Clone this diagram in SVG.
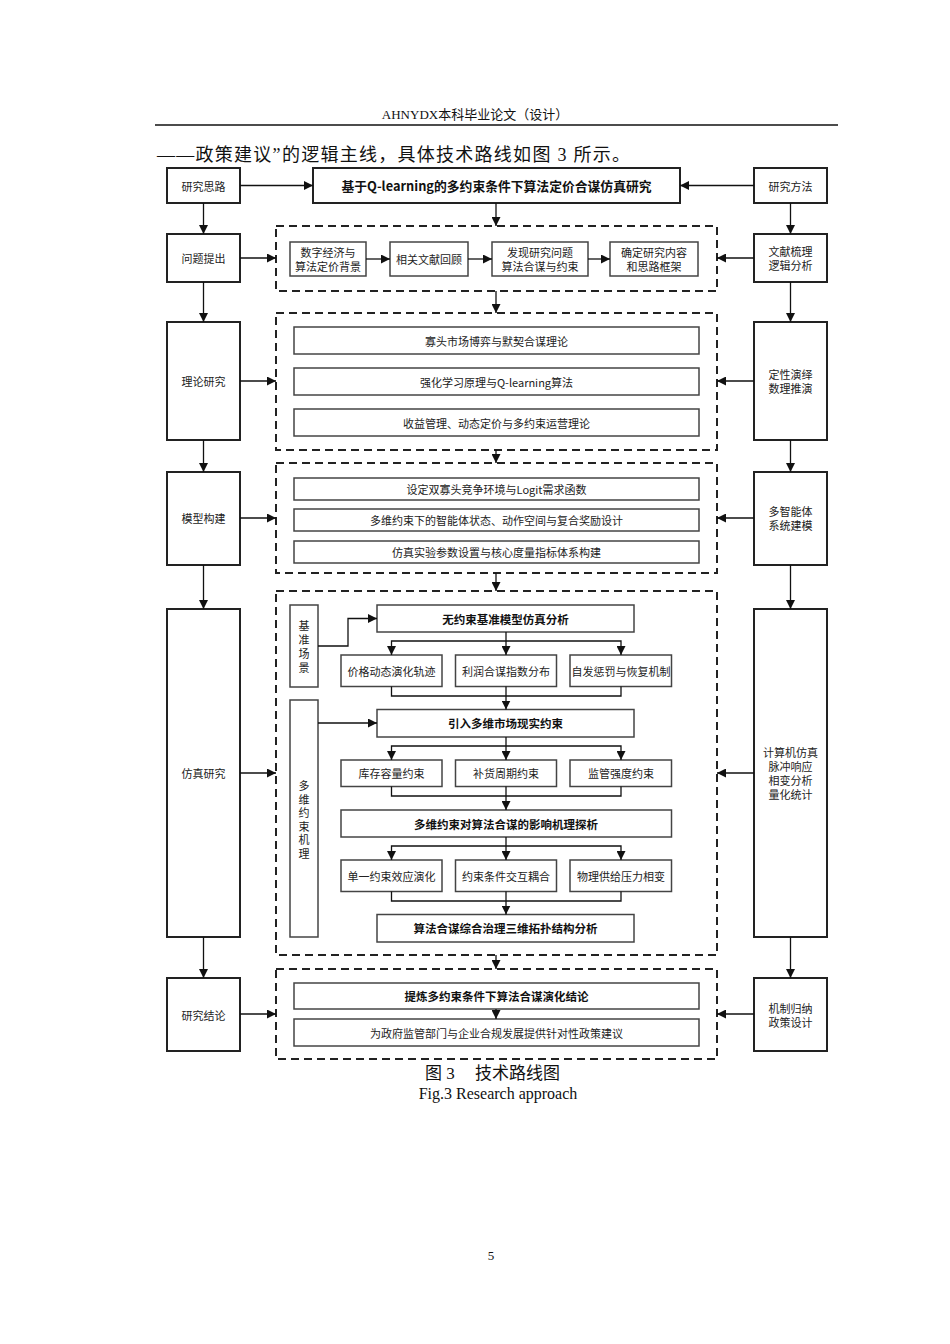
<svg xmlns="http://www.w3.org/2000/svg" width="950" height="1344" viewBox="0 0 950 1344">
<defs>
<marker id="ah" viewBox="0 0 10 10" refX="10" refY="5" markerWidth="9" markerHeight="9" markerUnits="userSpaceOnUse" orient="auto">
<path d="M0,0 L10,5 L0,10 z" fill="#111"/>
</marker>
<style>
.ob{fill:#fff;stroke:#222;stroke-width:2}
.ib{fill:#fff;stroke:#444;stroke-width:1.5}
.db{fill:none;stroke:#222;stroke-width:2;stroke-dasharray:8 5}
.t{font-family:"Noto Sans CJK SC","Noto Sans",sans-serif;font-size:11px;fill:#222;text-anchor:middle;dominant-baseline:central}
.tb{font-family:"Noto Sans CJK SC","Noto Sans",sans-serif;font-size:11.5px;font-weight:bold;fill:#111;text-anchor:middle;dominant-baseline:central}
.ttl{font-size:12.8px}
.cn{fill:none;stroke:#111;stroke-width:1.3}
.ser{font-family:"Liberation Serif","Noto Sans CJK SC",serif;fill:#111}
</style>
</defs>
<rect width="950" height="1344" fill="#fff"/>

<!-- page header -->
<text class="ser" x="475" y="119" font-size="13" text-anchor="middle">AHNYDX本科毕业论文（设计）</text>
<line x1="155" y1="125" x2="838" y2="125" stroke="#111" stroke-width="1.5"/>
<text class="ser" x="157" y="161" font-size="18" textLength="473" lengthAdjust="spacing">——政策建议”的逻辑主线，具体技术路线如图 3 所示。</text>

<!-- top row -->
<g id="n-silu"><rect class="ob" x="167" y="168" width="73" height="35"/><text class="t" x="203.5" y="185.5">研究思路</text></g>
<g id="n-title"><rect class="ob" x="313" y="168" width="367" height="35"/><text class="tb ttl" x="496.5" y="185.5">基于Q-learning的多约束条件下算法定价合谋仿真研究</text></g>
<g id="n-fangfa"><rect class="ob" x="754" y="168" width="73" height="35"/><text class="t" x="790.5" y="185.5">研究方法</text></g>

<!-- row 1 -->
<g id="n-wenti"><rect class="ob" x="167" y="234" width="73" height="48"/><text class="t" x="203.5" y="258">问题提出</text></g>
<g id="g-row1"><rect class="db" x="276" y="226" width="441" height="65"/></g>
<g id="n-bg"><rect class="ib" x="290" y="242" width="76" height="34"/><text class="t" x="328" y="252">数字经济与</text><text class="t" x="328" y="266">算法定价背景</text></g>
<g id="n-lit"><rect class="ib" x="390" y="242" width="78" height="34"/><text class="t" x="429" y="259">相关文献回顾</text></g>
<g id="n-find"><rect class="ib" x="492" y="242" width="96" height="34"/><text class="t" x="540" y="252">发现研究问题</text><text class="t" x="540" y="266">算法合谋与约束</text></g>
<g id="n-frame"><rect class="ib" x="610" y="242" width="88" height="34"/><text class="t" x="654" y="252">确定研究内容</text><text class="t" x="654" y="266">和思路框架</text></g>
<g id="n-wenxian"><rect class="ob" x="754" y="234" width="73" height="48"/><text class="t" x="790.5" y="251">文献梳理</text><text class="t" x="790.5" y="265">逻辑分析</text></g>

<!-- row 2 -->
<g id="n-lilun"><rect class="ob" x="167" y="322" width="73" height="118"/><text class="t" x="203.5" y="381">理论研究</text></g>
<g id="g-row2"><rect class="db" x="276" y="313" width="441" height="137"/></g>
<g id="n-game"><rect class="ib" x="294" y="327" width="405" height="27"/><text class="t" x="496.5" y="340.5">寡头市场博弈与默契合谋理论</text></g>
<g id="n-rl"><rect class="ib" x="294" y="368" width="405" height="27"/><text class="t" x="496.5" y="381.5">强化学习原理与Q-learning算法</text></g>
<g id="n-rev"><rect class="ib" x="294" y="409" width="405" height="27"/><text class="t" x="496.5" y="422.5">收益管理、动态定价与多约束运营理论</text></g>
<g id="n-dingxing"><rect class="ob" x="754" y="322" width="73" height="118"/><text class="t" x="790.5" y="374">定性演绎</text><text class="t" x="790.5" y="388">数理推演</text></g>

<!-- row 3 -->
<g id="n-moxing"><rect class="ob" x="167" y="472" width="73" height="93"/><text class="t" x="203.5" y="518">模型构建</text></g>
<g id="g-row3"><rect class="db" x="276" y="463" width="441" height="110"/></g>
<g id="n-env"><rect class="ib" x="294" y="478" width="405" height="22"/><text class="t" x="496.5" y="489">设定双寡头竞争环境与Logit需求函数</text></g>
<g id="n-state"><rect class="ib" x="294" y="509" width="405" height="22"/><text class="t" x="496.5" y="520">多维约束下的智能体状态、动作空间与复合奖励设计</text></g>
<g id="n-param"><rect class="ib" x="294" y="541" width="405" height="22"/><text class="t" x="496.5" y="552">仿真实验参数设置与核心度量指标体系构建</text></g>
<g id="n-agent"><rect class="ob" x="754" y="472" width="73" height="93"/><text class="t" x="790.5" y="511">多智能体</text><text class="t" x="790.5" y="525">系统建模</text></g>

<!-- row 4 -->
<g id="n-fangzhen"><rect class="ob" x="167" y="609" width="73" height="328"/><text class="t" x="203.5" y="773">仿真研究</text></g>
<g id="g-row4"><rect class="db" x="276" y="591" width="441" height="364"/></g>
<g id="n-base"><rect class="ib" x="290" y="605" width="28" height="82"/>
<text class="t" x="304" y="625">基</text><text class="t" x="304" y="639">准</text><text class="t" x="304" y="653">场</text><text class="t" x="304" y="667">景</text></g>
<g id="n-multi"><rect class="ib" x="290" y="700" width="28" height="237"/>
<text class="t" x="304" y="785">多</text><text class="t" x="304" y="798.5">维</text><text class="t" x="304" y="812">约</text><text class="t" x="304" y="825.5">束</text><text class="t" x="304" y="839">机</text><text class="t" x="304" y="852.5">理</text></g>
<g id="n-nocon"><rect class="ib" x="377" y="605" width="257" height="27"/><text class="tb" x="505.5" y="618.5">无约束基准模型仿真分析</text></g>
<g id="n-price"><rect class="ib" x="341" y="655" width="101" height="31.5"/><text class="t" x="391.5" y="671">价格动态演化轨迹</text></g>
<g id="n-profit"><rect class="ib" x="455.5" y="655" width="101" height="31.5"/><text class="t" x="506" y="671">利润合谋指数分布</text></g>
<g id="n-punish"><rect class="ib" x="570" y="655" width="101.5" height="31.5"/><text class="t" x="621" y="671">自发惩罚与恢复机制</text></g>
<g id="n-intro"><rect class="ib" x="377" y="709.5" width="257" height="27.5"/><text class="tb" x="505.5" y="723">引入多维市场现实约束</text></g>
<g id="n-inv"><rect class="ib" x="341" y="760" width="101" height="26.5"/><text class="t" x="391.5" y="773">库存容量约束</text></g>
<g id="n-rep"><rect class="ib" x="455.5" y="760" width="101" height="26.5"/><text class="t" x="506" y="773">补货周期约束</text></g>
<g id="n-reg"><rect class="ib" x="570" y="760" width="101.5" height="26.5"/><text class="t" x="621" y="773">监管强度约束</text></g>
<g id="n-mech"><rect class="ib" x="341" y="810" width="330.5" height="27"/><text class="tb" x="506" y="823.5">多维约束对算法合谋的影响机理探析</text></g>
<g id="n-single"><rect class="ib" x="341" y="860" width="101" height="31.5"/><text class="t" x="391.5" y="876">单一约束效应演化</text></g>
<g id="n-inter"><rect class="ib" x="455.5" y="860" width="101" height="31.5"/><text class="t" x="506" y="876">约束条件交互耦合</text></g>
<g id="n-phase"><rect class="ib" x="570" y="860" width="101.5" height="31.5"/><text class="t" x="621" y="876">物理供给压力相变</text></g>
<g id="n-topo"><rect class="ib" x="377" y="914.5" width="257" height="27.5"/><text class="tb" x="505.5" y="928">算法合谋综合治理三维拓扑结构分析</text></g>
<g id="n-jisuanji"><rect class="ob" x="754" y="609" width="73" height="328"/><text class="t" x="790.5" y="752">计算机仿真</text><text class="t" x="790.5" y="766">脉冲响应</text><text class="t" x="790.5" y="780">相变分析</text><text class="t" x="790.5" y="794">量化统计</text></g>

<!-- row 5 -->
<g id="n-jielun"><rect class="ob" x="167" y="978" width="73" height="73"/><text class="t" x="203.5" y="1014.5">研究结论</text></g>
<g id="g-row5"><rect class="db" x="276" y="969" width="441" height="90"/></g>
<g id="n-refine"><rect class="ib" x="294" y="983" width="405" height="26"/><text class="tb" x="496.5" y="996">提炼多约束条件下算法合谋演化结论</text></g>
<g id="n-policy"><rect class="ib" x="294" y="1019" width="405" height="27"/><text class="t" x="496.5" y="1032.5">为政府监管部门与企业合规发展提供针对性政策建议</text></g>
<g id="n-jizhi"><rect class="ob" x="754" y="978" width="73" height="73"/><text class="t" x="790.5" y="1007.5">机制归纳</text><text class="t" x="790.5" y="1021.5">政策设计</text></g>

<!-- connectors -->
<g id="connectors">
<path class="cn" d="M240,185.5 H313" marker-end="url(#ah)"/>
<path class="cn" d="M754,185.5 H680" marker-end="url(#ah)"/>
<path class="cn" d="M203.5,203 V234" marker-end="url(#ah)"/>
<path class="cn" d="M790.5,203 V234" marker-end="url(#ah)"/>
<path class="cn" d="M496,203 V226" marker-end="url(#ah)"/>
<path class="cn" d="M240,258 H276" marker-end="url(#ah)"/>
<path class="cn" d="M754,258 H717" marker-end="url(#ah)"/>
<path class="cn" d="M366,259 H390" marker-end="url(#ah)"/>
<path class="cn" d="M468,259 H492" marker-end="url(#ah)"/>
<path class="cn" d="M588,259 H610" marker-end="url(#ah)"/>
<path class="cn" d="M203.5,282 V322" marker-end="url(#ah)"/>
<path class="cn" d="M790.5,282 V322" marker-end="url(#ah)"/>
<path class="cn" d="M496,291 V313" marker-end="url(#ah)"/>
<path class="cn" d="M240,381 H276" marker-end="url(#ah)"/>
<path class="cn" d="M754,381 H717" marker-end="url(#ah)"/>
<path class="cn" d="M203.5,440 V472" marker-end="url(#ah)"/>
<path class="cn" d="M790.5,440 V472" marker-end="url(#ah)"/>
<path class="cn" d="M496,450 V463" marker-end="url(#ah)"/>
<path class="cn" d="M240,518 H276" marker-end="url(#ah)"/>
<path class="cn" d="M754,518 H717" marker-end="url(#ah)"/>
<path class="cn" d="M203.5,565 V609" marker-end="url(#ah)"/>
<path class="cn" d="M790.5,565 V609" marker-end="url(#ah)"/>
<path class="cn" d="M496,573 V591" marker-end="url(#ah)"/>
<path class="cn" d="M240,773 H276" marker-end="url(#ah)"/>
<path class="cn" d="M754,773 H717" marker-end="url(#ah)"/>
<path class="cn" d="M203.5,937 V978" marker-end="url(#ah)"/>
<path class="cn" d="M790.5,937 V978" marker-end="url(#ah)"/>
<path class="cn" d="M496,955 V969" marker-end="url(#ah)"/>
<path class="cn" d="M240,1014 H276" marker-end="url(#ah)"/>
<path class="cn" d="M754,1014 H717" marker-end="url(#ah)"/>
<path class="cn" d="M496,1009 V1019" marker-end="url(#ah)"/>
<!-- simulation inner -->
<path class="cn" d="M318,646 H348 V618.5 H377" marker-end="url(#ah)"/>
<path class="cn" d="M506,632 V655" marker-end="url(#ah)"/>
<path class="cn" d="M506,641 H391.5 V655" marker-end="url(#ah)"/>
<path class="cn" d="M506,641 H621 V655" marker-end="url(#ah)"/>
<path class="cn" d="M391.5,686.5 V696 H621 V686.5"/>
<path class="cn" d="M506,686.5 V709.5" marker-end="url(#ah)"/>
<path class="cn" d="M318,723 H377" marker-end="url(#ah)"/>
<path class="cn" d="M506,737 V760" marker-end="url(#ah)"/>
<path class="cn" d="M506,746 H391.5 V760" marker-end="url(#ah)"/>
<path class="cn" d="M506,746 H621 V760" marker-end="url(#ah)"/>
<path class="cn" d="M391.5,786.5 V796 H621 V786.5"/>
<path class="cn" d="M506,786.5 V810" marker-end="url(#ah)"/>
<path class="cn" d="M506,837 V860" marker-end="url(#ah)"/>
<path class="cn" d="M506,846 H391.5 V860" marker-end="url(#ah)"/>
<path class="cn" d="M506,846 H621 V860" marker-end="url(#ah)"/>
<path class="cn" d="M391.5,891.5 V901 H621 V891.5"/>
<path class="cn" d="M506,891.5 V914.5" marker-end="url(#ah)"/>
</g>

<!-- caption -->
<text class="ser" y="1079" font-size="17"><tspan x="425">图 3</tspan><tspan x="475">技术路线图</tspan></text>
<text class="ser" x="498" y="1099" font-size="16" text-anchor="middle">Fig.3 Research approach</text>
<text class="ser" x="491" y="1260" font-size="13" text-anchor="middle">5</text>
</svg>
